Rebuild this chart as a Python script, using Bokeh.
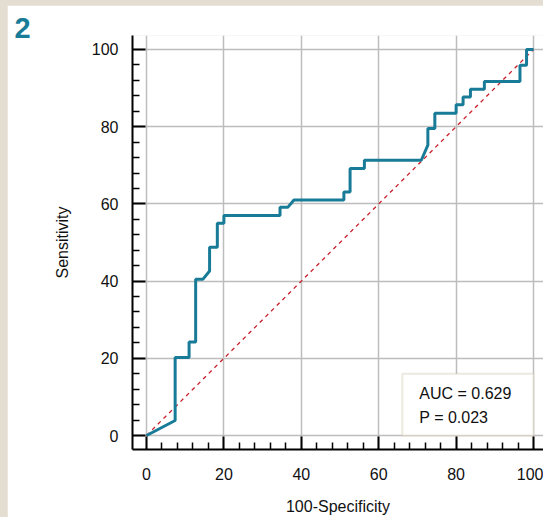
from bokeh.plotting import figure
from bokeh.models import Range1d, FixedTicker, Label, BoxAnnotation
from bokeh.embed import file_html
from bokeh.resources import INLINE

# ROC curve (100-Specificity, Sensitivity)
roc_x = [0, 7.4, 7.4, 11.0, 11.0, 12.7, 12.7, 14.6, 16.3, 16.3, 18.3, 18.3, 20.0, 20.0,
         34.5, 34.5, 36.5, 38.1, 51.0, 51.0, 52.6, 52.6, 56.3, 56.3, 71.0, 72.7, 72.7,
         74.5, 74.5, 80.0, 80.0, 81.8, 81.8, 83.7, 83.7, 87.3, 87.3, 96.5, 96.5, 98.2, 98.2, 100]
roc_y = [0, 3.9, 20.2, 20.2, 24.2, 24.2, 40.5, 40.5, 42.6, 48.8, 48.8, 55.0, 55.0, 57.0,
         57.0, 59.1, 59.1, 61.0, 61.0, 63.1, 63.1, 69.2, 69.2, 71.3, 71.3, 75.2, 79.5,
         79.5, 83.5, 83.5, 85.7, 85.7, 87.7, 87.7, 89.7, 89.7, 91.7, 91.7, 95.9, 95.9, 100, 100]
ref_x = [0, 100]
ref_y = [0, 100]

major_ticks = [0, 20, 40, 60, 80, 100]
minor_ticks = [4, 8, 12, 16, 24, 28, 32, 36, 44, 48, 52, 56, 64, 68, 72, 76, 84, 88, 92, 96]

x_title = "100-Specificity"
y_title = "Sensitivity"
panel_label = "2"
stats = ["AUC = 0.629", "P = 0.023"]

FONT = "Liberation Sans"
TEAL = "#187b97"

p = figure(width=536, height=512, output_backend="svg", toolbar_location=None,
           x_range=Range1d(-3.62, 102.58), y_range=Range1d(-3.62, 103.62),
           min_border_left=125, min_border_top=30, min_border_bottom=67, min_border_right=0,
           title=panel_label)
p.outline_line_color = None
p.background_fill_color = "white"
p.border_fill_color = "white"

p.title.text_font = FONT
p.title.text_font_size = "29px"
p.title.text_font_style = "bold"
p.title.text_color = TEAL
p.title.align = "left"
p.title.offset = -118
p.title.standoff = -5

for ax in (p.xaxis[0], p.yaxis[0]):
    ax.ticker = FixedTicker(ticks=major_ticks, minor_ticks=minor_ticks)
    ax.axis_line_color = "black"
    ax.axis_line_width = 2
    ax.major_tick_in = 13
    ax.major_tick_out = 0
    ax.minor_tick_in = 7
    ax.minor_tick_out = 0
    ax.major_tick_line_width = 2
    ax.minor_tick_line_width = 1.5
    ax.major_tick_line_color = "black"
    ax.minor_tick_line_color = "black"
    ax.major_label_text_font = FONT
    ax.major_label_text_font_size = "16px"
    ax.major_label_text_color = "#111111"
    ax.major_label_standoff = 14
    ax.axis_label_text_font = FONT
    ax.axis_label_text_font_size = "16px"
    ax.axis_label_text_font_style = "normal"
    ax.axis_label_text_color = "#111111"

p.xaxis[0].axis_label = x_title
p.xaxis[0].major_label_standoff = 18
p.xaxis[0].axis_label_standoff = 15
p.yaxis[0].axis_label = y_title
p.yaxis[0].axis_label_standoff = 18

for g in (p.xgrid[0], p.ygrid[0]):
    g.ticker = FixedTicker(ticks=major_ticks)
    g.grid_line_color = "#bdbdbd"
    g.grid_line_width = 1.5

p.line(ref_x, ref_y, line_color="#c8202a", line_width=1.3, line_dash="4 4")
p.line(roc_x, roc_y, line_color=TEAL, line_width=3)

box = BoxAnnotation(left=66.1, right=100, bottom=0, top=16.0,
                    fill_color="white", fill_alpha=1.0,
                    line_color="#c2b593", line_width=2)
p.add_layout(box)

p.add_layout(Label(x=70.5, y=11.0, text=stats[0], text_font=FONT, text_font_size="16px",
                   text_baseline="middle", text_align="left", text_color="#111111"))
p.add_layout(Label(x=70.5, y=4.7, text=stats[1], text_font=FONT, text_font_size="16px",
                   text_baseline="middle", text_align="left", text_color="#111111"))

html = file_html(p, INLINE)
html = html.replace("</head>",
                    "<style>html {background:#e4ded2 !important;} "
                    "body {background:#e4ded2 !important; margin:0 !important; "
                    "padding:5px 0 0 7px !important;}</style></head>", 1)
open("out.html", "w").write(html)
